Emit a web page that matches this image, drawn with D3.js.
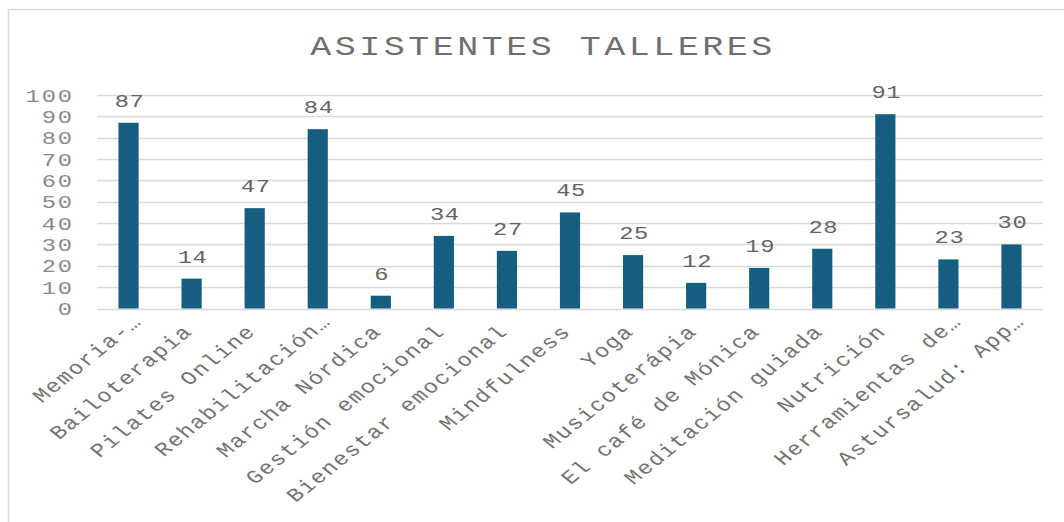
<!DOCTYPE html>
<html>
<head>
<meta charset="utf-8">
<style>
  body { margin: 0; background: #fff; }
  svg { display: block; }
  text { font-family: "Liberation Mono", "DejaVu Sans Mono", monospace; }
</style>
</head>
<body>
<div id="chart"></div>
<script src="https://cdn.jsdelivr.net/npm/d3@7"></script>
<script>
const categories = ["Memoria-…", "Bailoterapia", "Pilates Online", "Rehabilitación…",
  "Marcha Nórdica", "Gestión emocional", "Bienestar emocional", "Mindfulness", "Yoga",
  "Musicoterápia", "El café de Mónica", "Meditación guiada", "Nutrición",
  "Herramientas de…", "Astursalud: App…"];
const asistentes = [87, 14, 47, 84, 6, 34, 27, 45, 25, 12, 19, 28, 91, 23, 30];
const yTicks = [0, 10, 20, 30, 40, 50, 60, 70, 80, 90, 100];
const title = "ASISTENTES  TALLERES";

const width = 1064, height = 522;
const margin = {top: 95, right: 21, bottom: 213, left: 97};
const stretch = 1.25; // text in the original looks stretched sideways

const svg = d3.select("#chart").append("svg")
    .attr("width", width)
    .attr("height", height);

// outer chart frame (runs past the window on right and bottom)
svg.append("rect")
    .attr("x", 8.5).attr("y", 9.5)
    .attr("width", width + 20).attr("height", height + 20)
    .attr("fill", "none")
    .attr("stroke", "#d9d9d9")
    .attr("stroke-width", 1.5);

svg.append("text")
    .attr("transform", `translate(543,55) scale(${stretch},1)`)
    .attr("text-anchor", "middle")
    .attr("fill", "#6f6f6f")
    .style("font-size", "28px")
    .style("letter-spacing", "2.8px")
    .text(title);

const x = d3.scaleBand()
    .domain(categories)
    .range([margin.left, width - margin.right])
    .paddingInner(0.68)
    .paddingOuter(0.34);

const y = d3.scaleLinear()
    .domain([0, 100])
    .range([height - margin.bottom - 0.5, margin.top]);

// gridlines
svg.append("g")
  .selectAll("line")
  .data(yTicks)
  .join("line")
    .attr("x1", margin.left).attr("x2", width - margin.right)
    .attr("y1", d => Math.round(y(d)) + 0.5).attr("y2", d => Math.round(y(d)) + 0.5)
    .attr("stroke", "#d9d9d9")
    .attr("stroke-width", 1.5);

// y axis labels
svg.append("g")
  .selectAll("text")
  .data(yTicks)
  .join("text")
    .attr("transform", d => `translate(74,${y(d)}) scale(${stretch},1)`)
    .attr("dy", "0.35em")
    .attr("text-anchor", "end")
    .attr("fill", "#8a8a8a")
    .style("font-size", "19px")
    .style("letter-spacing", "1.5px")
    .text(d => d);

// bars
svg.append("g")
  .selectAll("rect")
  .data(asistentes)
  .join("rect")
    .attr("x", (d, i) => x(categories[i]))
    .attr("y", d => y(d))
    .attr("width", x.bandwidth())
    .attr("height", d => y(0) - y(d))
    .attr("fill", "#165e80");

// value labels
svg.append("g")
  .selectAll("text")
  .data(asistentes)
  .join("text")
    .attr("transform", (d, i) => `translate(${x(categories[i]) + x.bandwidth() / 2 + 1},${y(d) - 16}) scale(${stretch},1)`)
    .attr("text-anchor", "middle")
    .attr("fill", "#646464")
    .style("font-size", "19px")
    .style("letter-spacing", "0.5px")
    .text(d => d);

// category labels, rotated
svg.append("g")
  .selectAll("text")
  .data(categories)
  .join("text")
    .attr("transform", d => `translate(${x(d) + x.bandwidth() / 2 + 2},${y(0) + 24}) scale(${stretch},1) rotate(-45)`)
    .attr("dx", d => d.endsWith("…") ? 14 : 0)
    .attr("text-anchor", "end")
    .attr("fill", "#727272")
    .style("font-size", "19px")
    .style("letter-spacing", "1.3px")
    .text(d => d);
</script>
</body>
</html>
